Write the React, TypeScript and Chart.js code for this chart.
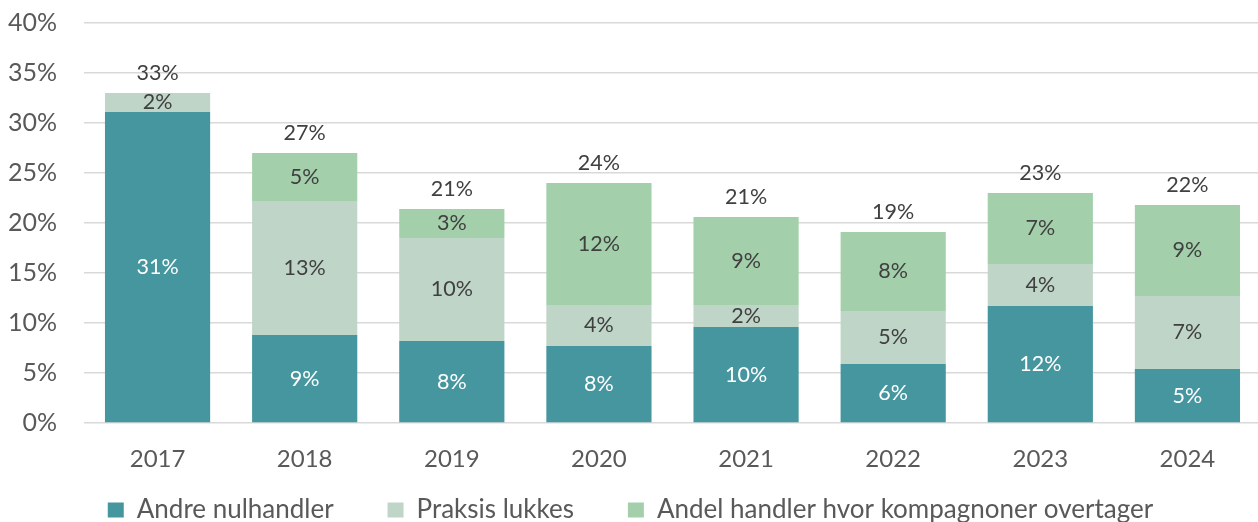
import React, { useEffect, useRef } from "react";
import { Chart, registerables } from "chart.js";

Chart.register(...registerables);

const categories = ["2017", "2018", "2019", "2020", "2021", "2022", "2023", "2024"];
const andreNulhandler = [31.1, 8.8, 8.2, 7.7, 9.6, 5.9, 11.7, 5.4];
const praksisLukkes = [1.9, 13.4, 10.3, 4.1, 2.2, 5.3, 4.2, 7.3];
const andelKompagnoner = [null, 4.8, 2.9, 12.2, 8.8, 7.9, 7.1, 9.1];
const yTicks = [0, 5, 10, 15, 20, 25, 30, 35, 40];

const FONT = "Lato";

const labelPlugin = {
  id: "segLabels",
  afterDatasetsDraw(chart: any) {
    const ctx = chart.ctx;
    ctx.save();
    ctx.font = `21.5px ${FONT}`;
    ctx.textAlign = "center";
    ctx.textBaseline = "middle";
    const n = chart.data.labels.length;
    const totals: number[] = new Array(n).fill(0);
    chart.data.datasets.forEach((ds: any, di: number) => {
      const meta = chart.getDatasetMeta(di);
      meta.data.forEach((bar: any, i: number) => {
        const v = ds.data[i];
        if (v == null) return;
        totals[i] += v;
        const yMid = (bar.y + bar.base) / 2;
        ctx.fillStyle = di === 0 ? "#ffffff" : "#404040";
        ctx.fillText(Math.round(v) + "%", bar.x, yMid);
      });
    });
    const yScale = chart.scales.y;
    const meta0 = chart.getDatasetMeta(0);
    ctx.fillStyle = "#404040";
    totals.forEach((t, i) => {
      const x = meta0.data[i].x;
      const y = yScale.getPixelForValue(t);
      ctx.fillText(Math.round(t) + "%", x, y - 20);
    });
    ctx.restore();
  },
};

export default function App() {
  const ref = useRef<HTMLCanvasElement>(null);
  useEffect(() => {
    if (!ref.current) return;
    const chart = new Chart(ref.current, {
      type: "bar",
      data: {
        labels: categories,
        datasets: [
          {
            label: "Andre nulhandler",
            data: andreNulhandler,
            backgroundColor: "#45969E",
            borderWidth: 0,
          },
          {
            label: "Praksis lukkes",
            data: praksisLukkes,
            backgroundColor: "#BFD5C8",
            borderWidth: 0,
          },
          {
            label: "Andel handler hvor kompagnoner overtager",
            data: andelKompagnoner,
            backgroundColor: "#A3D0AA",
            borderWidth: 0,
          },
        ] as any,
      },
      options: {
        animation: false,
        responsive: false,
        maintainAspectRatio: false,
        layout: { padding: { top: 23, right: 0, left: 0, bottom: 0 } },
        datasets: { bar: { categoryPercentage: 1, barPercentage: 0.715 } } as any,
        plugins: {
          legend: {
            position: "bottom",
            labels: {
              font: { family: FONT, size: 26 },
              color: "#595959",
              boxWidth: 16,
              boxHeight: 15,
              padding: 23,
              generateLabels(chart: any) {
                const items = Chart.defaults.plugins.legend.labels.generateLabels(chart);
                items.forEach((it: any, i: number) => {
                  it.lineWidth = 0;
                  if (i < items.length - 1) it.text = it.text + "\u2002\u2002\u2009\u200A";
                });
                return items;
              },
            },
          },
          tooltip: { enabled: false },
        },
        scales: {
          x: {
            stacked: true,
            grid: { display: false, drawTicks: false },
            border: { display: false },
            ticks: { font: { family: FONT, size: 24 }, color: "#595959", padding: 22 },
            afterFit(scale: any) {
              scale.height = 51;
            },
          },
          y: {
            stacked: true,
            min: 0,
            max: 40,
            afterBuildTicks(scale: any) {
              scale.ticks = yTicks.map((v) => ({ value: v }));
            },
            afterFit(scale: any) {
              scale.width = 84;
              scale.paddingTop = 0;
              scale.paddingBottom = 0;
            },
            grid: { color: "#D9D9D9", lineWidth: 1.5, drawTicks: false },
            border: { display: false },
            ticks: {
              font: { family: FONT, size: 25 },
              color: "#595959",
              padding: 27,
              callback: (v: any) => v + "%",
            },
          },
        },
      },
      plugins: [labelPlugin],
    });
    return () => chart.destroy();
  }, []);
  return (
    <div style={{ position: "fixed", left: 0, top: 0, width: 1258, height: 522, overflow: "hidden", background: "#fff" }}>
      <canvas ref={ref} width={1261} height={533} style={{ display: "block" }} />
    </div>
  );
}
